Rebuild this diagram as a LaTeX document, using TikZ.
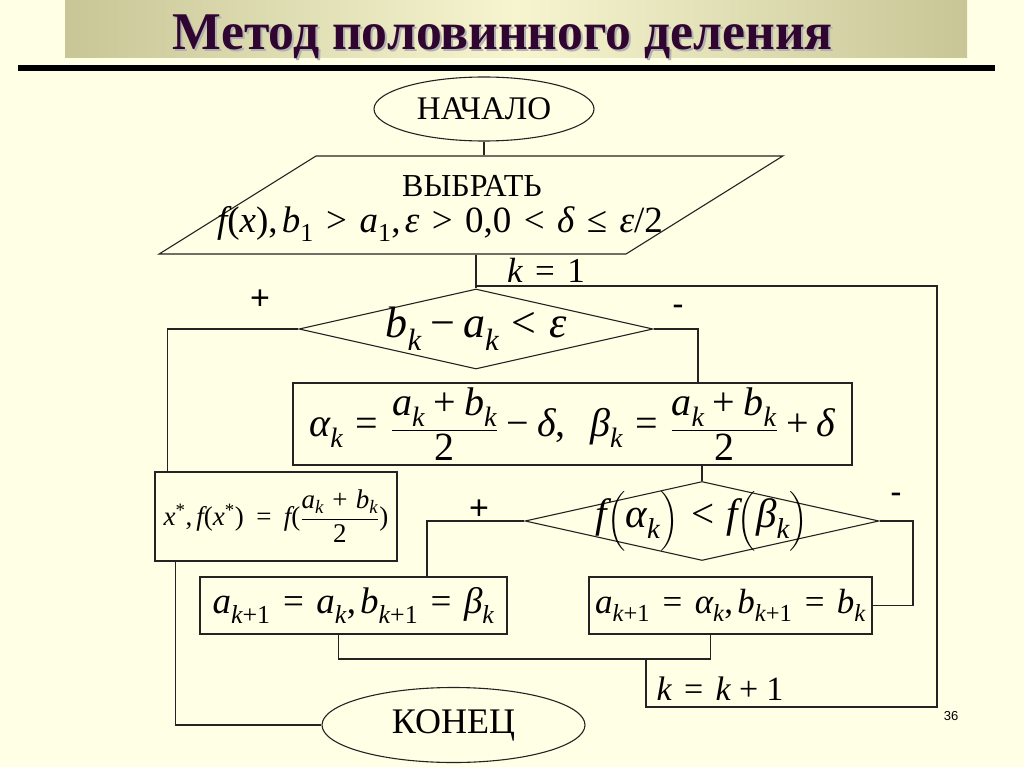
\documentclass[tikz,border=0pt]{standalone}
\usepackage{amsmath}
\usepackage{fontspec}
\setmainfont{Liberation Serif}
\newfontfamily\slidesans{Liberation Sans}
\usepackage{graphicx}
\usetikzlibrary{shapes.geometric}
% Times-like math letters from Liberation Serif
\DeclareSymbolFont{lsit}{TU}{\rmdefault}{m}{it}
\DeclareSymbolFont{lsup}{TU}{\rmdefault}{m}{n}
\AtBeginDocument{%
  \Umathcode`a=7 \symlsit `a
  \Umathcode`b=7 \symlsit `b
  \Umathcode`f=7 \symlsit `f
  \Umathcode`k=7 \symlsit `k
  \Umathcode`x=7 \symlsit `x
  \Umathcode`0=0 \symlsup `0
  \Umathcode`1=0 \symlsup `1
  \Umathcode`2=0 \symlsup `2
  \Umathcode`*=0 \symlsup `*
  \Umathcode`+=2 \symlsup `+
  \Umathcode`-=2 \symlsup "2212
  \Umathcode`==3 \symlsup `=
  \Umathcode`<=3 \symlsup `<
  \Umathcode`>=3 \symlsup `>
  \Umathcode`,=6 \symlsup `,
  \Umathcode`/=0 \symlsup `/
  \Umathcode`(=4 \symlsup `(
  \Umathcode`)=5 \symlsup `)
  \Umathchardef\alpha=0 \symlsit "03B1
  \Umathchardef\beta=0 \symlsit "03B2
  \Umathchardef\delta=0 \symlsit "03B4
  \Umathchardef\varepsilon=0 \symlsit "03B5
  \Umathchardef\le=3 \symlsup "2264
  \medmuskip=6mu plus 2mu minus 2mu
  \thickmuskip=9mu plus 3mu
}
\definecolor{slidebg}{RGB}{255,255,230}
\definecolor{barside}{RGB}{200,198,150}
\definecolor{barmid}{RGB}{246,245,208}
\definecolor{ttlcol}{RGB}{48,6,48}
\definecolor{lncol}{RGB}{35,35,35}
\newcommand{\ttltext}{\resizebox{660pt}{\height}{\fontsize{53}{53}\selectfont\bfseries Метод половинного деления}}
\newcommand{\sgntext}[1]{{\slidesans\fontsize{34}{34}\selectfont #1}}

\begin{document}
\begin{tikzpicture}[x=1pt, y=-1pt]
  \tikzstyle{blk}=[draw=lncol, line width=1.1pt, inner sep=0pt]
  \tikzstyle{term}=[blk, ellipse]
  \tikzstyle{inp}=[blk, trapezium, trapezium left angle=32, trapezium right angle=148]
  \tikzstyle{dec}=[blk, diamond]
  \tikzstyle{box}=[blk, rectangle]
  \tikzstyle{ln}=[draw=lncol, line width=1.1pt]
  \fill[slidebg] (0,0) rectangle (1024,767);
  \useasboundingbox (0,0) rectangle (1024,767);
  % title
  \shade[left color=barside, right color=barside, middle color=barmid] (65,0) rectangle (967,58);
  \node[anchor=base, text=black!30] (ttlsh) at (505,52) {\ttltext};
  \node[anchor=base, text=ttlcol] (ttl) at (503,50) {\ttltext};
  \fill (18,65) rectangle (995,71);
  % blocks
  \node[term, minimum width=220pt, minimum height=64pt, font=\fontsize{33}{36}\selectfont] (start) at (484,109) {НАЧАЛО};
  \node[inp] (sel) at (471,205) {\rule{310pt}{0pt}\rule{0pt}{98pt}};
  \node[anchor=base, font=\fontsize{32}{36}\selectfont] (selt1) at (472,197) {ВЫБРАТЬ};
  \node[anchor=base, font=\fontsize{37}{40}\selectfont] (selt2) at (440,233) {$f(x), b_1 > a_1, \varepsilon > 0{,}0 < \delta \le \varepsilon/2$};
  \node[anchor=base, font=\fontsize{35}{40}\selectfont] (k1) at (546,282) {$k=1$};
  \node[dec, minimum width=354pt, minimum height=80pt, font=\fontsize{44}{46}\selectfont] (d1) at (476,329) {\makebox[0pt]{$b_k - a_k < \varepsilon$}};
  \node[box, minimum width=559pt, minimum height=82pt, font=\fontsize{40}{44}\selectfont] (ab) at (572.5,424) {$\alpha_k = \dfrac{a_k+b_k}{2} - \delta,\ \ \beta_k = \dfrac{a_k+b_k}{2} + \delta$};
  \node[box, minimum width=242pt, minimum height=89pt, font=\fontsize{27}{30}\selectfont] (xs) at (276,516.5) {$x^*, f(x^*) = f(\dfrac{a_k+b_k}{2})$};
  \node[dec, minimum width=354pt, minimum height=79pt, font=\fontsize{41}{44}\selectfont] (d2) at (702,521) {\makebox[0pt]{$f\Bigl(\alpha_k\Bigr) < f\Bigl(\beta_k\Bigr)$}};
  \node[box, minimum width=307pt, minimum height=57pt, font=\fontsize{37}{40}\selectfont] (b3) at (353.5,605.5) {$a_{k+1} = a_k, b_{k+1} = \beta_k$};
  \node[box, minimum width=283pt, minimum height=57pt, font=\fontsize{35}{38}\selectfont] (b4) at (730.5,605.5) {$a_{k+1} = \alpha_k, b_{k+1} = b_k$};
  \node[anchor=base, font=\fontsize{34}{38}\selectfont] (k2) at (720,700) {$k = k+1$};
  \node[term, minimum width=263pt, minimum height=75pt, font=\fontsize{36}{40}\selectfont] (end) at (453.5,725) {КОНЕЦ};
  % signs
  \node (p1) at (260,300) {\sgntext{+}};
  \node (m1) at (678,310) {\sgntext{-}};
  \node (p2) at (479,510) {\sgntext{+}};
  \node (m2) at (896,498) {\sgntext{-}};
  \node[font=\slidesans\fontsize{13}{13}\selectfont] (pg) at (951,716) {36};
  % helper columns
  \coordinate (cr1) at (698,0);
  \coordinate (cl2) at (427,0);
  \coordinate (cr2) at (913,0);
  \coordinate (mg) at (646,659);
  \coordinate (lb) at (937,707);
  \coordinate (lt) at (937,286);
  % connectors
  \draw[ln] (start.south) -- (start.south |- sel.north);
  \draw[ln] (sel.south -| d1.north) -- (d1.north);
  \draw[ln] (d1.west) -| ([xshift=13pt]xs.north west);
  \draw[ln] ([xshift=21pt]xs.south west) |- (end.west);
  \draw[ln] (d1.east) -| (ab.north -| cr1);
  \draw[ln] (ab.south -| d2.north) -- (d2.north);
  \draw[ln] (d2.west) -| (b3.north -| cl2);
  \draw[ln] (d2.east) -| (b4.east -| cr2) -- (b4.east);
  \draw[ln] ([xshift=-15pt]b3.south) |- (mg) -| ([xshift=-20pt]b4.south);
  \draw[ln] (mg) |- (lb) -- (lt) -- (lt -| d1.north);
\end{tikzpicture}
\end{document}
